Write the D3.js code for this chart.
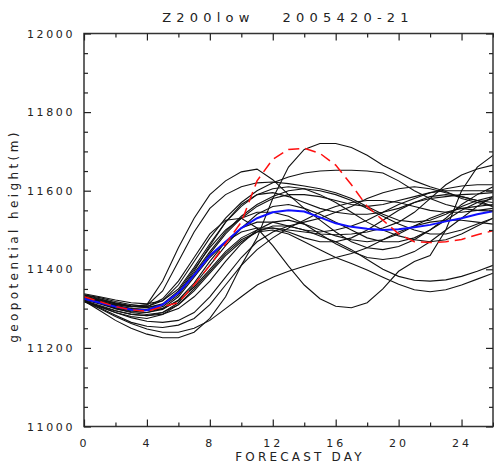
<!DOCTYPE html>
<html>
<head>
<meta charset="utf-8">
<script src="https://d3js.org/d3.v7.min.js"></script>
<style>
  body { margin: 0; background: white; }
  text { font-family: "DejaVu Sans", sans-serif; fill: #222; }
</style>
</head>
<body>
<svg id="chart" width="494" height="466"></svg>
<script>
// forecast days 0..26
const days = d3.range(0, 27);

// ensemble members (geopotential height, m), one value per day
const members = [
  [11330,11322,11312,11305,11310,11370,11455,11530,11590,11625,11648,11655,11628,11590,11555,11525,11495,11470,11455,11450,11458,11475,11500,11530,11565,11590,11610],
  [11325,11318,11310,11305,11308,11345,11420,11495,11555,11590,11610,11620,11622,11618,11612,11605,11595,11580,11560,11540,11525,11520,11525,11540,11560,11575,11585],
  [11335,11328,11318,11310,11305,11320,11360,11420,11480,11530,11570,11600,11620,11635,11645,11650,11652,11652,11650,11645,11625,11600,11580,11565,11555,11550,11548],
  [11320,11295,11270,11250,11235,11226,11226,11240,11275,11330,11410,11480,11580,11660,11705,11720,11720,11710,11690,11665,11645,11625,11610,11598,11580,11570,11560],
  [11330,11322,11312,11305,11305,11325,11370,11430,11490,11525,11530,11505,11460,11408,11360,11325,11306,11302,11315,11350,11395,11420,11435,11500,11600,11660,11690],
  [11318,11300,11280,11262,11248,11240,11240,11250,11270,11300,11330,11360,11380,11395,11408,11420,11430,11440,11455,11475,11495,11510,11520,11525,11525,11520,11515],
  [11318,11305,11290,11280,11275,11285,11310,11350,11395,11440,11475,11495,11500,11490,11470,11450,11430,11415,11398,11380,11362,11348,11343,11348,11360,11375,11390],
  [11325,11315,11300,11290,11285,11290,11310,11345,11390,11435,11470,11495,11510,11510,11500,11485,11470,11450,11425,11400,11382,11372,11370,11373,11382,11395,11410],
  [11322,11312,11300,11292,11290,11300,11330,11380,11430,11470,11495,11505,11505,11500,11495,11490,11488,11490,11495,11505,11520,11545,11580,11615,11640,11655,11665],
  [11328,11318,11305,11296,11295,11305,11335,11385,11440,11490,11530,11560,11580,11590,11590,11585,11575,11565,11560,11565,11575,11585,11595,11600,11600,11600,11600],
  [11320,11308,11295,11285,11282,11290,11315,11360,11410,11460,11505,11540,11560,11565,11555,11540,11520,11500,11480,11470,11470,11480,11500,11525,11550,11570,11580],
  [11335,11325,11315,11307,11303,11312,11345,11400,11455,11500,11530,11545,11545,11535,11515,11490,11465,11445,11430,11425,11430,11445,11470,11500,11530,11560,11585],
  [11320,11302,11283,11265,11255,11252,11258,11275,11310,11360,11410,11450,11480,11505,11525,11545,11560,11570,11575,11575,11570,11560,11550,11545,11545,11550,11555],
  [11322,11305,11290,11277,11268,11265,11270,11290,11330,11380,11430,11470,11495,11510,11520,11530,11545,11560,11580,11595,11605,11610,11605,11595,11585,11575,11570],
  [11330,11320,11308,11300,11298,11310,11340,11390,11445,11495,11535,11565,11585,11600,11605,11600,11590,11575,11555,11535,11515,11500,11490,11490,11500,11515,11530],
  [11338,11330,11322,11315,11312,11320,11350,11405,11465,11520,11560,11590,11605,11610,11605,11590,11570,11545,11520,11500,11485,11475,11470,11475,11490,11510,11530],
  [11324,11314,11302,11294,11290,11298,11322,11365,11420,11470,11505,11520,11520,11510,11500,11495,11500,11510,11525,11545,11565,11580,11595,11605,11612,11615,11615],
  [11332,11324,11314,11306,11302,11310,11340,11395,11460,11520,11565,11590,11595,11585,11570,11555,11545,11540,11540,11545,11555,11570,11580,11585,11590,11592,11595],
  [11318,11306,11294,11286,11282,11286,11300,11330,11370,11420,11465,11500,11520,11525,11515,11500,11485,11475,11470,11475,11490,11510,11530,11545,11555,11560,11565],
  [11328,11318,11308,11300,11296,11300,11320,11355,11400,11445,11480,11500,11505,11495,11480,11470,11470,11480,11500,11525,11550,11570,11585,11590,11585,11575,11560]
];

// ensemble mean (blue)
const ensMean = [11325,11315,11305,11297,11296,11310,11340,11385,11435,11470,11505,11530,11545,11550,11547,11532,11517,11508,11503,11500,11502,11507,11513,11522,11530,11540,11548];

// verifying analysis (red dashed)
const analysis = [11330,11318,11305,11297,11293,11305,11315,11360,11410,11465,11520,11625,11680,11705,11708,11695,11665,11615,11560,11525,11490,11470,11468,11470,11476,11488,11498];

const xMajor = [0, 4, 8, 12, 16, 20, 24];
const xMinor = [2, 6, 10, 14, 18, 22, 26];
const yMajor = [11000, 11200, 11400, 11600, 11800, 12000];
const yMinor = d3.range(11050, 12000, 50).filter(v => v % 200 != 0);

const pL = 84, pR = 493, pT = 33.5, pB = 426.5;

const x = d3.scaleLinear().domain([0, 26]).range([pL, pR]);
const y = d3.scaleLinear().domain([11000, 12000]).range([pB, pT]);

const svg = d3.select("#chart");

svg.append("clipPath").attr("id", "clip")
  .append("rect")
  .attr("x", pL).attr("y", pT)
  .attr("width", pR - pL).attr("height", pB - pT);

const line = d3.line()
  .x((d, i) => x(days[i]))
  .y(d => y(d));

const plot = svg.append("g").attr("clip-path", "url(#clip)");

// members
plot.selectAll("path.member")
  .data(members)
  .enter().append("path")
  .attr("class", "member")
  .attr("d", line)
  .attr("fill", "none")
  .attr("stroke", "#111")
  .attr("stroke-width", 1.1);

// mean
plot.append("path")
  .attr("d", line(ensMean))
  .attr("fill", "none")
  .attr("stroke", "#1010ff")
  .attr("stroke-width", 2);

// analysis
plot.append("path")
  .attr("d", line(analysis))
  .attr("fill", "none")
  .attr("stroke", "#ff1010")
  .attr("stroke-width", 1.5)
  .attr("stroke-dasharray", "11,6");

// frame
svg.append("rect")
  .attr("x", pL).attr("y", pT)
  .attr("width", pR - pL).attr("height", pB - pT)
  .attr("fill", "none")
  .attr("stroke", "#333")
  .attr("stroke-width", 1.5);

// axes (ticks pointing inward, on all four sides)
svg.append("g")
  .attr("transform", "translate(0," + pB + ")")
  .call(d3.axisBottom(x).tickValues(xMajor).tickSize(-7).tickPadding(13).tickFormat(d3.format("d")));
svg.append("g")
  .attr("transform", "translate(0," + pB + ")")
  .call(d3.axisBottom(x).tickValues(xMinor).tickSize(-4).tickFormat(""));
svg.append("g")
  .attr("transform", "translate(0," + pT + ")")
  .call(d3.axisTop(x).tickValues(xMajor).tickSize(-7).tickFormat(""));
svg.append("g")
  .attr("transform", "translate(0," + pT + ")")
  .call(d3.axisTop(x).tickValues(xMinor).tickSize(-4).tickFormat(""));

svg.append("g")
  .attr("class", "yax")
  .attr("transform", "translate(" + pL + ",0)")
  .call(d3.axisLeft(y).tickValues(yMajor).tickSize(-7).tickPadding(9).tickFormat(d3.format("d")));
svg.append("g")
  .attr("transform", "translate(" + pL + ",0)")
  .call(d3.axisLeft(y).tickValues(yMinor).tickSize(-4).tickFormat(""));
svg.append("g")
  .attr("transform", "translate(" + pR + ",0)")
  .call(d3.axisRight(y).tickValues(yMajor).tickSize(-7).tickFormat(""));
svg.append("g")
  .attr("transform", "translate(" + pR + ",0)")
  .call(d3.axisRight(y).tickValues(yMinor).tickSize(-4).tickFormat(""));

svg.selectAll(".domain").remove();
svg.selectAll(".tick line").attr("stroke", "#222").attr("stroke-width", 1.2);
svg.selectAll(".tick text")
  .style("font-family", "DejaVu Sans, sans-serif")
  .style("font-size", "11px")
  .style("letter-spacing", "3px")
  .attr("fill", "#222");
svg.selectAll(".yax .tick text").style("letter-spacing", "2.6px");

// title
svg.append("text")
  .attr("x", 288)
  .attr("y", 22)
  .attr("text-anchor", "middle")
  .style("font-size", "13px")
  .style("letter-spacing", "5.2px")
  .style("white-space", "pre")
  .text("Z200low   2005420-21");

// x-axis title
svg.append("text")
  .attr("x", 300)
  .attr("y", 461)
  .attr("text-anchor", "middle")
  .style("font-size", "12px")
  .style("letter-spacing", "3.2px")
  .text("FORECAST DAY");

// y-axis title
svg.append("text")
  .attr("transform", "translate(18,236) rotate(-90)")
  .attr("text-anchor", "middle")
  .style("font-size", "12px")
  .style("letter-spacing", "3.4px")
  .text("geopotential height(m)");
</script>
</body>
</html>
